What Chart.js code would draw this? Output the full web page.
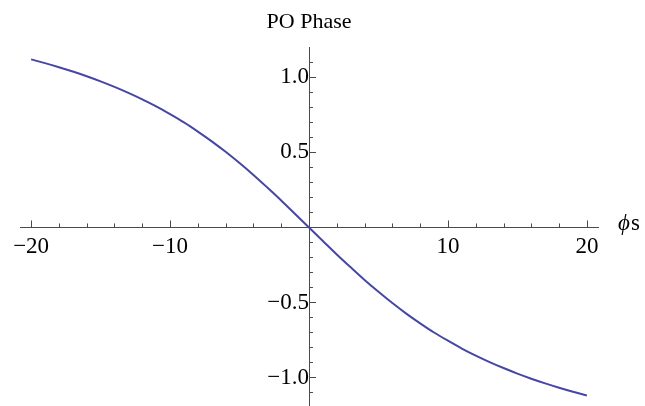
<!DOCTYPE html>
<html>
<head>
<meta charset="utf-8">
<script src="https://cdn.jsdelivr.net/npm/chart.js@4/dist/chart.umd.min.js"></script>
<style>
  html, body { margin: 0; padding: 0; background: #ffffff; }
  #wrap { width: 645px; height: 406px; position: relative; }
</style>
</head>
<body>
<div id="wrap"><canvas id="c"></canvas></div>
<script>
// PO phase as a function of the phase shift phi_s
const phiS = [-20,-19,-18,-17,-16,-15,-14,-13,-12,-11,-10,-9,-8,-7,-6,-5,-4,-3,-2,-1,
              0,1,2,3,4,5,6,7,8,9,10,11,12,13,14,15,16,17,18,19,20];
const poPhase = [1.120,1.095,1.068,1.039,1.008,0.974,0.937,0.897,0.854,0.807,0.755,0.700,0.639,0.574,0.504,0.429,0.350,0.266,0.180,0.090,
                 0.000,-0.090,-0.180,-0.266,-0.350,-0.429,-0.504,-0.574,-0.639,-0.700,-0.755,-0.807,-0.854,-0.897,-0.937,-0.974,-1.008,-1.039,-1.068,-1.095,-1.120];

const xTickStep = 2, xLabelEvery = 10;
const yTickStep = 0.1, yLabelEvery = 0.5;

const titleText = 'PO Phase';
const xAxisName = ['\u03D5', 's'];

const serif = '"Liberation Serif", "DejaVu Serif", serif';
const axisColor = '#4a4a4a';
const lineColor = '#4646a6';

function isMultiple(v, step) {
  const r = v / step;
  return Math.abs(r - Math.round(r)) < 1e-6;
}
function fmt(v, digits) {
  const s = Math.abs(v).toFixed(digits);
  return (v < 0 ? '\u2212' : '') + s;
}

// Tick marks drawn on the upper side of the x axis and on the right
// side of the y axis, longer at the labelled positions.
const axisTicks = {
  id: 'axisTicks',
  afterDraw(chart) {
    const ctx = chart.ctx;
    const xs = chart.scales.x, ys = chart.scales.y;
    const y0 = ys.getPixelForValue(0);
    const x0 = xs.getPixelForValue(0);
    ctx.save();
    ctx.strokeStyle = axisColor;
    ctx.lineWidth = 1;
    xs.ticks.forEach(t => {
      if (Math.abs(t.value) < 1e-9) return;
      const px = Math.round(xs.getPixelForValue(t.value)) + 0.5;
      const len = isMultiple(t.value, xLabelEvery) ? 7 : 4;
      ctx.beginPath();
      ctx.moveTo(px, y0);
      ctx.lineTo(px, y0 - len);
      ctx.stroke();
    });
    ys.ticks.forEach(t => {
      if (Math.abs(t.value) < 1e-9) return;
      const py = Math.round(ys.getPixelForValue(t.value)) + 0.5;
      const len = isMultiple(t.value, yLabelEvery) ? 7 : 4;
      ctx.beginPath();
      ctx.moveTo(x0, py);
      ctx.lineTo(x0 + len, py);
      ctx.stroke();
    });
    // axis name at the right end of the x axis
    const xr = xs.right + 20;
    ctx.fillStyle = '#000';
    ctx.textBaseline = 'middle';
    ctx.textAlign = 'left';
    ctx.font = 'italic 23px ' + serif;
    ctx.fillText(xAxisName[0], xr, y0 - 3);
    const w = ctx.measureText(xAxisName[0]).width;
    ctx.font = '23px ' + serif;
    ctx.fillText(xAxisName[1], xr + w + 1, y0 - 3);
    ctx.restore();
  }
};

// axes cross inside the plot, so no room is kept for end labels
function noEdgePadding(scale) {
  scale.paddingTop = 0;
  scale.paddingBottom = 0;
  scale.paddingLeft = 0;
  scale.paddingRight = 0;
}

new Chart(document.getElementById('c'), {
  type: 'line',
  data: {
    labels: phiS,
    datasets: [{
      data: phiS.map((x, i) => ({ x: x, y: poPhase[i] })),
      borderColor: lineColor,
      borderWidth: 2,
      pointRadius: 0,
      fill: false,
      cubicInterpolationMode: 'monotone'
    }]
  },
  options: {
    responsive: true,
    maintainAspectRatio: false,
    animation: false,
    layout: { padding: { left: 20, right: 47, top: 0, bottom: 0 } },
    plugins: {
      legend: { display: false },
      tooltip: { enabled: false },
      title: {
        display: true,
        text: titleText,
        color: '#000',
        font: { family: serif, size: 22, weight: 'normal' },
        padding: { top: 9, bottom: 12 }
      }
    },
    scales: {
      x: {
        type: 'linear',
        position: { y: 0 },
        min: -20.8,
        max: 20.8,
        afterFit: noEdgePadding,
        grid: { display: false, drawTicks: false },
        border: { display: true, color: axisColor, width: 1 },
        ticks: {
          stepSize: xTickStep,
          includeBounds: false,
          autoSkip: false,
          maxRotation: 0,
          padding: 6,
          color: '#000',
          font: { family: serif, size: 23 },
          callback: v => (isMultiple(v, xLabelEvery) && Math.abs(v) > 1e-9) ? fmt(v, 0) : ''
        }
      },
      y: {
        type: 'linear',
        position: { x: 0 },
        min: -1.19,
        max: 1.2,
        afterFit: noEdgePadding,
        grid: { display: false, drawTicks: false },
        border: { display: true, color: axisColor, width: 1 },
        ticks: {
          stepSize: yTickStep,
          includeBounds: false,
          autoSkip: false,
          padding: 9,
          color: '#000',
          font: { family: serif, size: 23 },
          callback: v => (isMultiple(v, yLabelEvery) && Math.abs(v) > 1e-9) ? fmt(v, 1) : ''
        }
      }
    }
  },
  plugins: [axisTicks]
});
</script>
</body>
</html>
